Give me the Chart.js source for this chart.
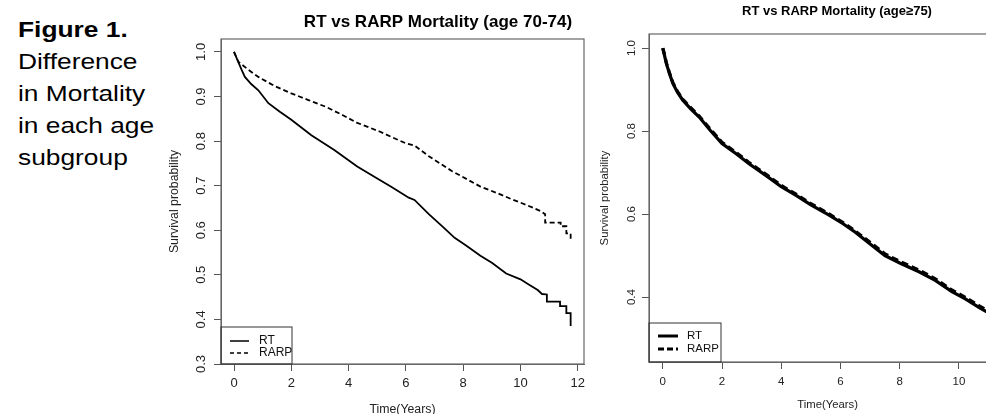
<!DOCTYPE html>
<html>
<head>
<meta charset="utf-8">
<script src="https://cdn.jsdelivr.net/npm/chart.js@4.4.1/dist/chart.umd.min.js"></script>
<style>
html,body{margin:0;padding:0;background:#fff;overflow:hidden;width:986px;height:414px;}
#cap{position:absolute;left:18px;top:14px;font-family:'Liberation Sans',Arial,sans-serif;font-size:22.5px;line-height:32px;color:#000;transform:scaleX(1.17);transform-origin:left top;}
#cap b{font-weight:bold;}
#c1{position:absolute;left:160px;top:0;}
#c2{position:absolute;left:590px;top:0;}
</style>
</head>
<body>
<div id="cap"><b>Figure 1.</b><br>Difference<br>in Mortality<br>in each age<br>subgroup</div>
<canvas id="c1" width="440" height="414"></canvas>
<canvas id="c2" width="440" height="414"></canvas>
<script>
// age 70-74
var rtTimeA=[0,0.1,0.27,0.38,0.6,0.85,1.2,1.6,2.0,2.7,3.5,4.3,5.0,5.5,6.1,6.3,6.8,7.3,7.7,8.1,8.6,9.0,9.5,10.0,10.3,10.6,10.75,10.92,10.92,11.38,11.38,11.6,11.6,11.75,11.75];
var rtSurvA=[1.0,0.985,0.959,0.944,0.928,0.914,0.885,0.866,0.848,0.813,0.780,0.743,0.716,0.697,0.673,0.668,0.636,0.607,0.583,0.566,0.543,0.527,0.503,0.490,0.478,0.466,0.457,0.456,0.440,0.440,0.430,0.430,0.414,0.414,0.385];
var rarpTimeA=[0,0.15,0.5,0.85,1.4,2.0,2.6,3.2,3.8,4.3,5.1,5.5,6.0,6.3,6.8,7.6,8.6,9.2,9.75,10.2,10.7,10.86,10.86,11.4,11.4,11.6,11.6,11.75,11.75];
var rarpSurvA=[1.0,0.978,0.960,0.944,0.924,0.907,0.892,0.877,0.858,0.841,0.821,0.809,0.795,0.790,0.766,0.733,0.698,0.683,0.668,0.657,0.643,0.636,0.617,0.617,0.609,0.609,0.593,0.593,0.575];
// age >=75
var timeB=[0,0.05,0.12,0.22,0.34,0.5,0.67,0.95,1.23,1.6,2.0,2.5,2.9,3.5,4.0,4.5,5.0,5.6,6.1,6.5,7.0,7.5,8.0,8.65,9.2,9.76,10.2,10.7,11.15];
var rtSurvB=[1.0,0.985,0.963,0.94,0.915,0.893,0.875,0.853,0.834,0.802,0.770,0.744,0.722,0.692,0.666,0.645,0.622,0.598,0.576,0.556,0.528,0.500,0.482,0.461,0.440,0.413,0.396,0.374,0.356];
var rarpSurvB=[1.0,0.987,0.965,0.942,0.917,0.895,0.877,0.856,0.836,0.805,0.773,0.747,0.725,0.695,0.669,0.648,0.625,0.601,0.579,0.559,0.532,0.504,0.486,0.465,0.444,0.417,0.400,0.378,0.360];

var xTicks=[0,2,4,6,8,10,12];
var yTicksA=[0.3,0.4,0.5,0.6,0.7,0.8,0.9,1.0];
var yTicksB=[0.4,0.6,0.8,1.0];
var seriesNames=['RT','RARP'];

var FONT="'Liberation Sans', Arial, sans-serif";

function pts(t,s){
	var out=[];
	for(var i=0;i<t.length;i++){ out.push({x:t[i],y:s[i]}); }
	return out;
}

// frame, rotated y labels, titles and the legend box, R style
var rPlot={
	id:'rPlot',
	afterDraw:function(chart,args,o){
		var ctx=chart.ctx, a=chart.chartArea, ys=chart.scales.y;
		ctx.save();
		ctx.strokeStyle='#666'; ctx.lineWidth=1.2;
		ctx.strokeRect(a.left,a.top,a.right-a.left,a.bottom-a.top);
		ctx.fillStyle='#222';
		ctx.font=o.tickSize+'px '+FONT;
		ctx.textAlign='center'; ctx.textBaseline='middle';
		ys.ticks.forEach(function(t){
			var py=ys.getPixelForValue(t.value);
			ctx.save(); ctx.translate(a.left-o.yLabelGap,py); ctx.rotate(-Math.PI/2);
			ctx.fillText(t.value.toFixed(1),0,0); ctx.restore();
		});
		ctx.font=o.axisSize+'px '+FONT;
		ctx.save(); ctx.translate(o.yTitleX,(a.top+a.bottom)/2); ctx.rotate(-Math.PI/2);
		ctx.fillText('Survival probability',0,0); ctx.restore();
		ctx.fillText('Time(Years)',(a.left+a.right)/2,o.xTitleY);
		ctx.fillStyle='#000';
		ctx.font='bold '+o.titleSize+'px '+FONT;
		ctx.fillText(o.title,o.titleX,o.titleY);
		// legend
		var lg=o.legend;
		ctx.strokeStyle='#333'; ctx.lineWidth=1;
		ctx.strokeRect(a.left,a.bottom-lg.h,lg.w,lg.h);
		ctx.font=lg.size+'px '+FONT; ctx.textAlign='left'; ctx.fillStyle='#111';
		for(var i=0;i<2;i++){
			var ly=a.bottom-lg.h+lg.y0+i*lg.dy;
			ctx.strokeStyle='#000'; ctx.lineWidth=lg.lw;
			ctx.setLineDash(i==0?[]:lg.dash);
			ctx.beginPath(); ctx.moveTo(a.left+lg.x0,ly); ctx.lineTo(a.left+lg.x0+lg.len,ly); ctx.stroke();
			ctx.setLineDash([]);
			ctx.fillText(seriesNames[i],a.left+lg.tx,ly);
		}
		ctx.restore();
	}
};

function makeChart(id,rt,rarp,lw,dash,yTicks,s){
	return new Chart(document.getElementById(id),{
		type:'line',
		data:{datasets:[
			{label:seriesNames[0],data:rt,borderColor:'#000',borderWidth:lw,pointRadius:0,tension:0,fill:false},
			{label:seriesNames[1],data:rarp,borderColor:'#000',borderWidth:lw,borderDash:dash,pointRadius:0,tension:0,fill:false}
		]},
		options:{
			responsive:false,animation:false,
			layout:{padding:{top:s.padTop,right:s.padRight,left:0,bottom:0}},
			plugins:{legend:{display:false},tooltip:{enabled:false},rPlot:s.plot},
			scales:{
				x:{type:'linear',min:s.xMin,max:s.xMax,
					afterBuildTicks:function(sc){ sc.ticks=xTicks.map(function(v){return {value:v};}); },
					afterFit:function(sc){ sc.height=s.xH; },
					grid:{drawOnChartArea:false,drawTicks:true,tickLength:7,color:'#555'},
					border:{display:true,color:'#666'},
					ticks:{color:'#222',font:{family:FONT,size:s.plot.tickSize},padding:s.xPad,maxRotation:0}
				},
				y:{type:'linear',min:s.yMin,max:s.yMax,
					afterBuildTicks:function(sc){ sc.ticks=yTicks.map(function(v){return {value:v};}); },
					afterFit:function(sc){ sc.width=s.yW; },
					grid:{drawOnChartArea:false,drawTicks:true,tickLength:7,color:'#555'},
					border:{display:true,color:'#666'},
					ticks:{display:false}
				}
			}
		},
		plugins:[rPlot]
	});
}

makeChart('c1',pts(rtTimeA,rtSurvA),pts(rarpTimeA,rarpSurvA),1.8,[5,3],yTicksA,{
	padTop:39,padRight:16,xH:50,yW:61,xMin:-0.454,xMax:12.216,yMin:0.3,yMax:1.029,xPad:5,
	plot:{tickSize:13,axisSize:12.3,yLabelGap:20,yTitleX:15,xTitleY:410,
		title:'RT vs RARP Mortality (age 70-74)',titleX:278,titleY:22,titleSize:17,
		legend:{w:71,h:37,x0:9,len:19,tx:38,y0:14,dy:12,lw:1.5,dash:[4,3],size:12}}
});

makeChart('c2',pts(timeB,rtSurvB),pts(timeB,rarpSurvB),3.2,[7,4],yTicksB,{
	padTop:34,padRight:18,xH:52,yW:59,xMin:-0.465,xMax:11.595,yMin:0.2434,yMax:1.034,xPad:6,
	plot:{tickSize:11.5,axisSize:11.3,yLabelGap:17,yTitleX:15,xTitleY:405,
		title:'RT vs RARP Mortality (age\u226575)',titleX:247,titleY:11,titleSize:13,
		legend:{w:72,h:39,x0:9,len:20,tx:38,y0:13,dy:13,lw:3,dash:[6,3],size:11.5}}
});
</script>
</body>
</html>
